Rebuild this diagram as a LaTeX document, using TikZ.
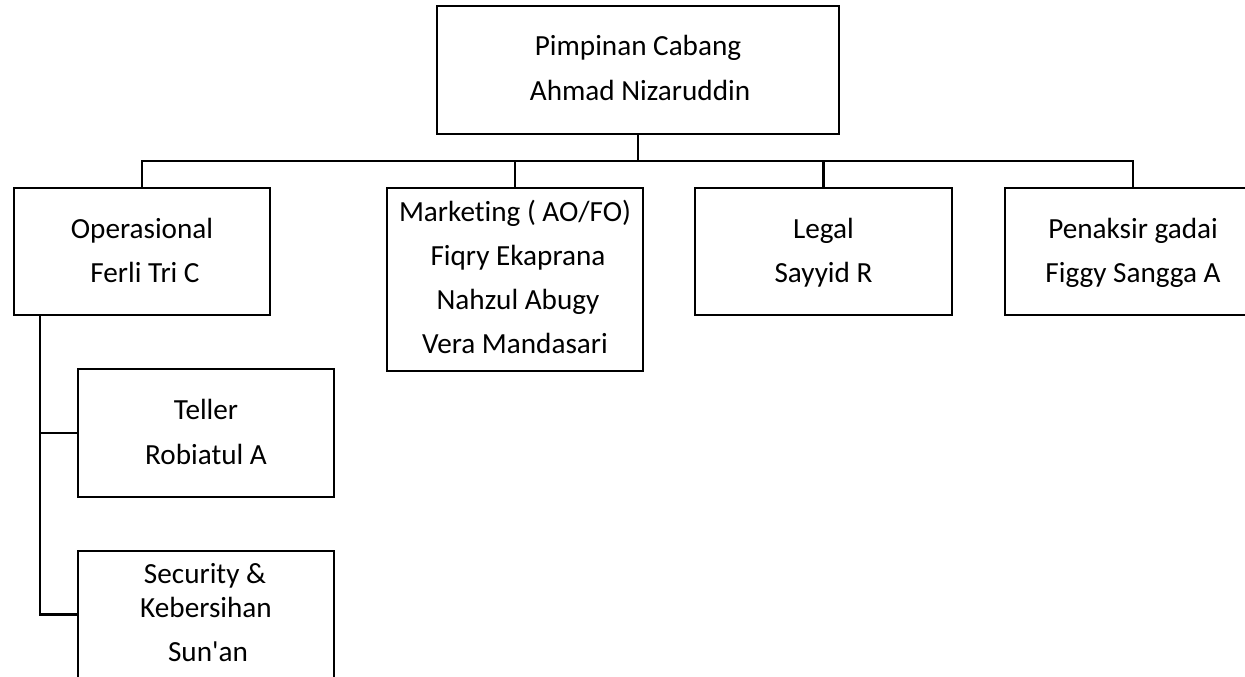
\documentclass[tikz,border=0pt]{standalone}
\usepackage{fontspec}
\setmainfont{Carlito}[Ligatures={NoCommon,TeXOff}]
\begin{document}
\begin{tikzpicture}[x=0.5pt,y=-0.5pt,
  box/.style={draw=black,line width=1.1pt,rectangle,inner sep=0pt,fill=none},
  txt/.style={anchor=base,inner sep=0pt,font=\fontsize{14.6}{17}\selectfont},
  conn/.style={draw=black,line width=1.1pt}]
\useasboundingbox (0,0) rectangle (1245,676);
\clip (0,0) rectangle (1245,676);
\fill[white] (0,0) rectangle (1245,676);
% boxes
\node[box,minimum width=201pt,minimum height=64pt] (top) at (638,70) {};
\node[box,minimum width=128pt,minimum height=63.5pt] (op) at (142,251.5) {};
\node[box,minimum width=128pt,minimum height=91.5pt] (mkt) at (515,279.5) {};
\node[box,minimum width=128.5pt,minimum height=63.5pt] (leg) at (823.5,251.5) {};
\node[box,minimum width=128pt,minimum height=63.5pt] (pen) at (1133,251.5) {};
\node[box,minimum width=128pt,minimum height=64pt] (tel) at (206,433) {};
\node[box,minimum width=128pt,minimum height=63.5pt] (sec) at (206,614.5) {};
% texts
\node[txt] (top1) at (638,55) {Pimpinan Cabang};
\node[txt] (top2) at (640,100) {Ahmad Nizaruddin};
\node[txt] (op1) at (142,238) {Operasional};
\node[txt] (op2) at (145,282) {Ferli Tri C};
\node[txt] (mkt1) at (515,221) {Marketing ( AO/FO)};
\node[txt] (mkt2) at (518,265) {Fiqry Ekaprana};
\node[txt] (mkt3) at (518,309) {Nahzul Abugy};
\node[txt] (mkt4) at (515,353) {Vera Mandasari};
\node[txt] (leg1) at (823.5,238) {Legal};
\node[txt] (leg2) at (823.5,282) {Sayyid R};
\node[txt] (pen1) at (1133,238) {Penaksir gadai};
\node[txt] (pen2) at (1133,282) {Figgy Sangga A};
\node[txt] (tel1) at (206,419) {Teller};
\node[txt] (tel2) at (206,464) {Robiatul A};
\node[txt] (sec1) at (205,583) {Security \&};
\node[txt] (sec2) at (206,617) {Kebersihan};
\node[txt] (sec3) at (208,661) {Sun'an};
% connectors
\coordinate (bus) at (0,161);
\coordinate (trunk) at (40,0);
\draw[conn] (top.south) -- (top.south |- bus);
\draw[conn] (op.north) -- (op.north |- bus) -- (pen.north |- bus) -- (pen.north);
\draw[conn] (mkt.north) -- (mkt.north |- bus);
\draw[conn] (leg.north) -- (leg.north |- bus);
\draw[conn] (op.south -| trunk) -- (sec.west -| trunk) -- (sec.west);
\draw[conn] (tel.west -| trunk) -- (tel.west);
\end{tikzpicture}
\end{document}
